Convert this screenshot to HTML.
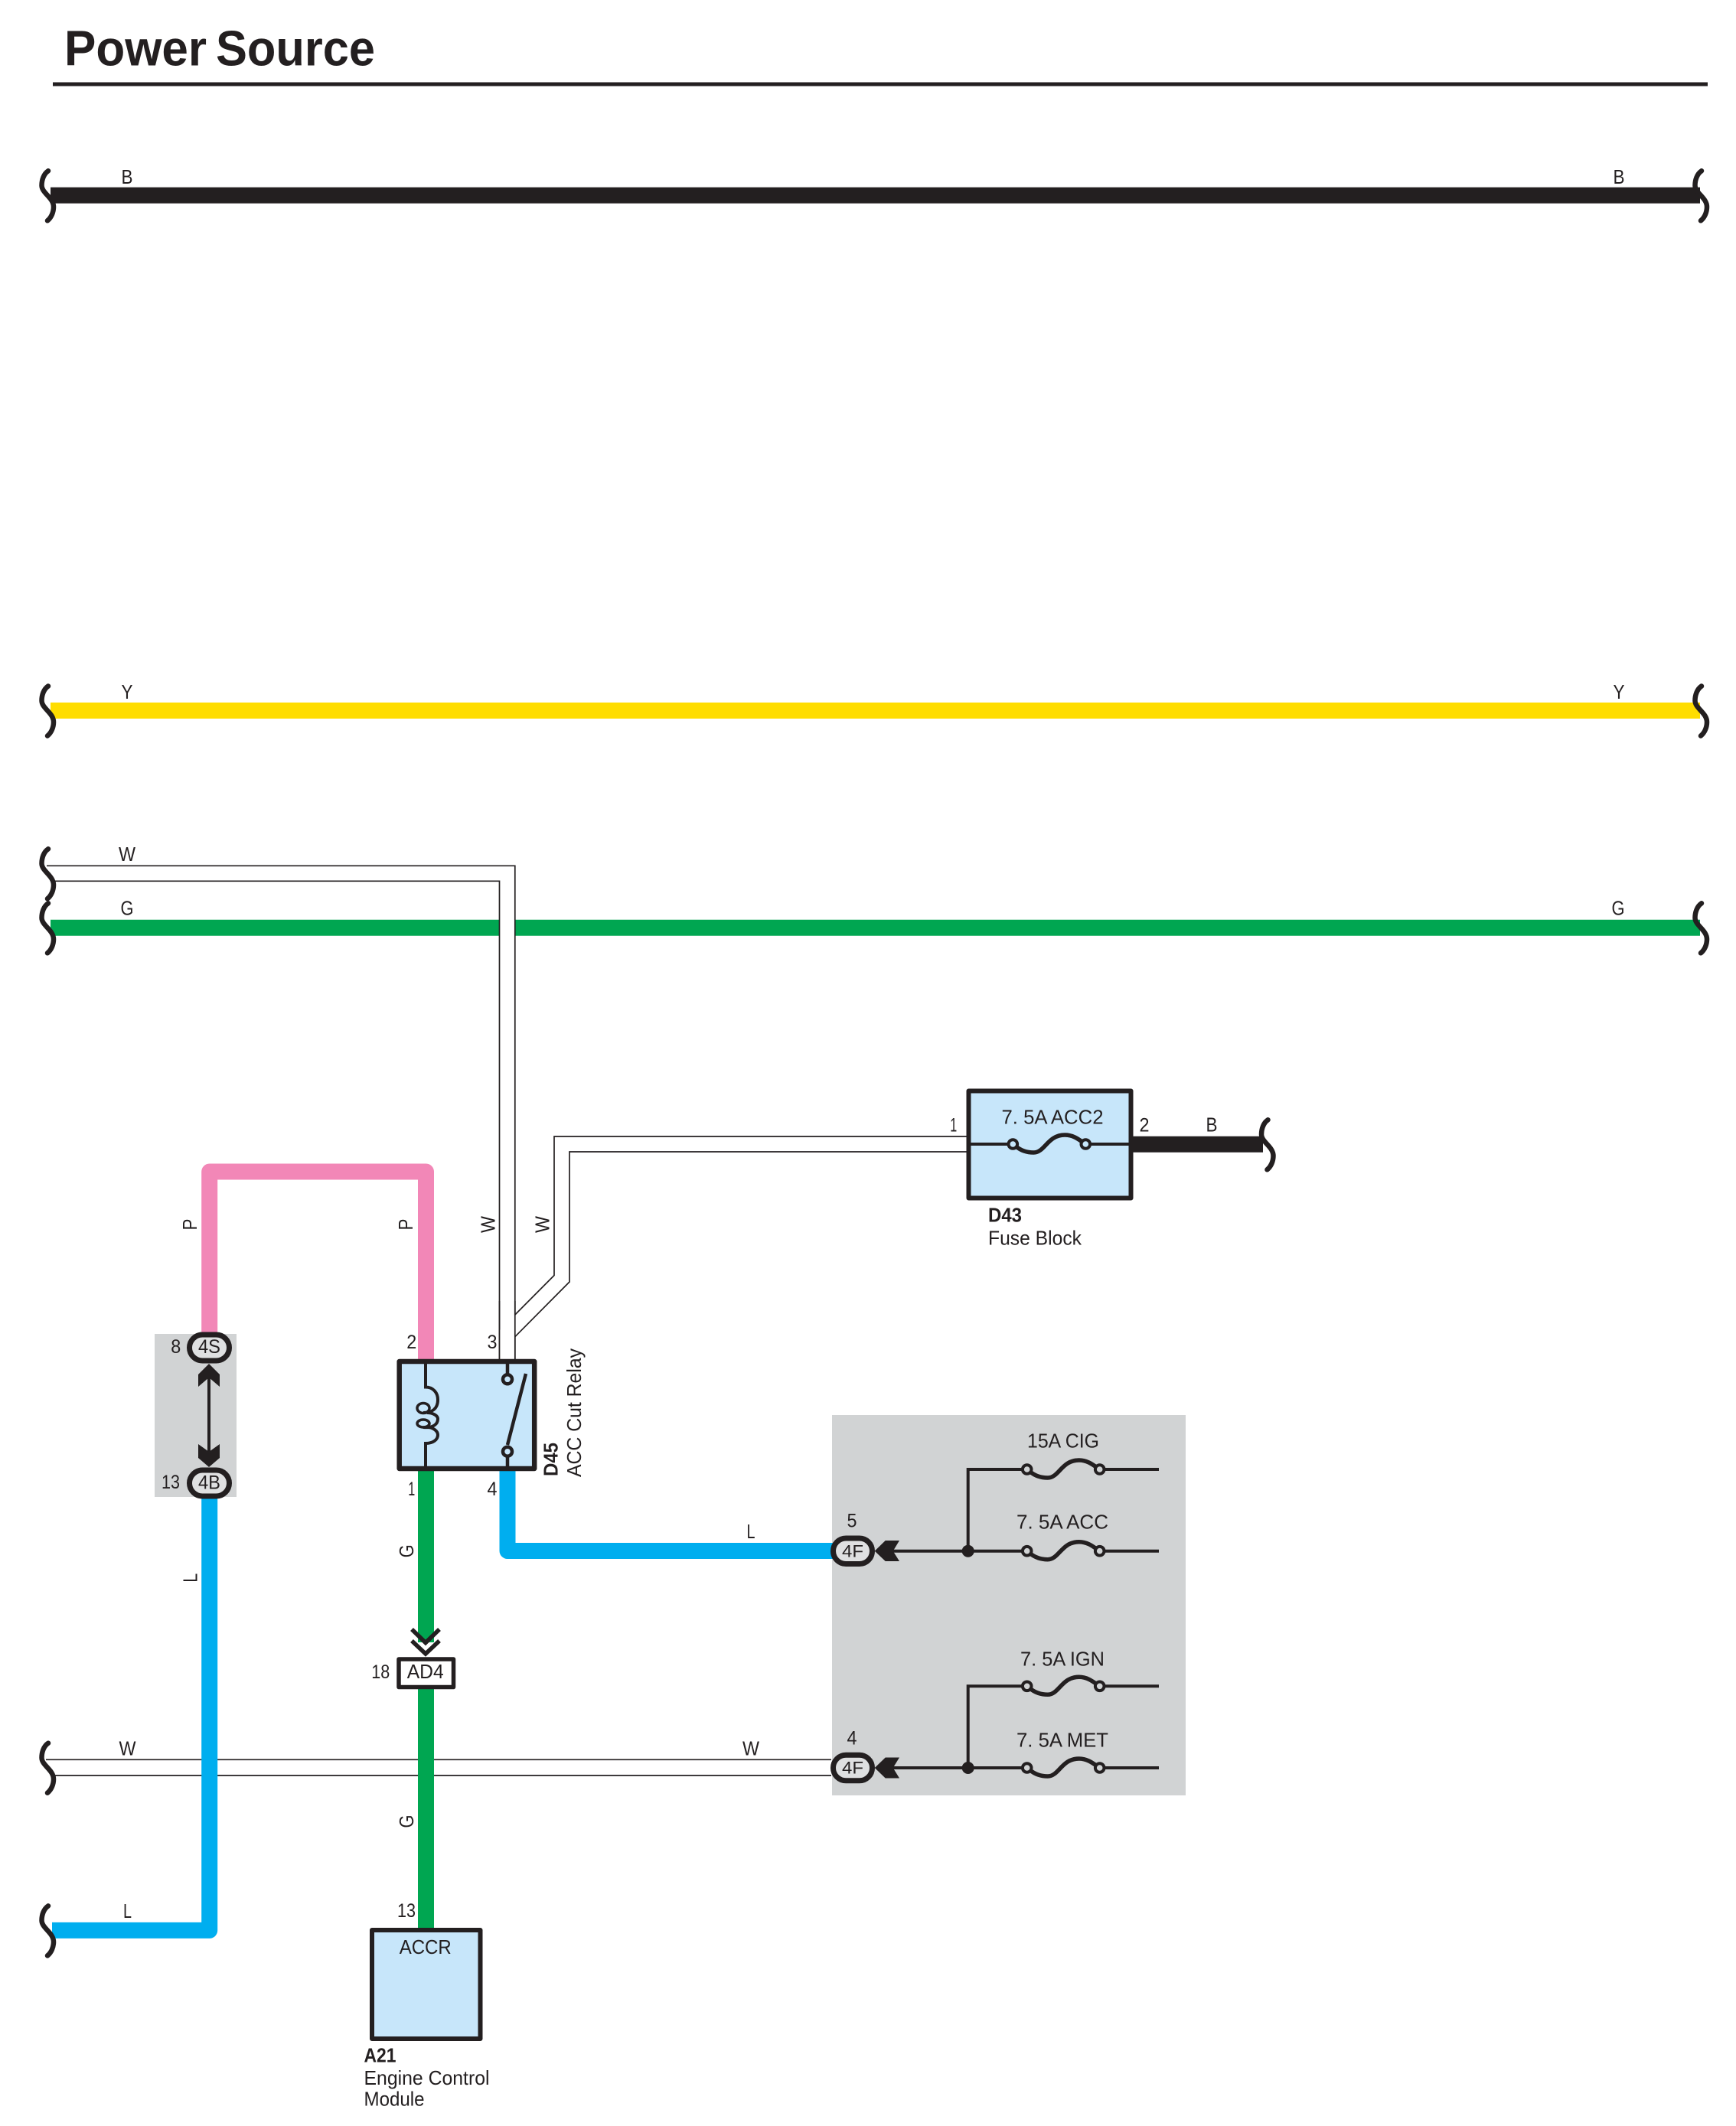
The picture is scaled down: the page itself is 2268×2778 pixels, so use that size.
<!DOCTYPE html>
<html lang="en">
<head>
<meta charset="utf-8">
<title>Power Source</title>
<style>
html,body{margin:0;padding:0;background:#fff}
svg{display:block}
text{font-family:"Liberation Sans",sans-serif;font-size:26px;fill:#231f20}
.m{text-anchor:middle}
.b{font-weight:bold}
.n{font-size:25px}
.c{font-size:22px}
.w{fill:none;stroke-linejoin:round;stroke-width:21}
.k{fill:none;stroke:#231f20;stroke-width:4}
.t{fill:none;stroke:#231f20;stroke-width:1.7}
.box{stroke:#231f20;stroke-linejoin:round}
</style>
</head>
<body>
<svg xmlns="http://www.w3.org/2000/svg" width="2268" height="2778" viewBox="0 0 2268 2778">
<defs>
<path id="br" d="M0,-32 C-6,-28 -8.5,-20 -8.5,-13 C-8.5,-3 7,3 7,15 C7,22 4,29 -1,33" fill="none" stroke="#231f20" stroke-width="6.5" stroke-linecap="round"/>
<g id="fuse">
<path d="M4,3 C10,8 17,11 27,11 C42,11 45,-12 68,-12 C78,-12 85,-7 92,-2" fill="none" stroke="#231f20" stroke-width="5.5"/>
<circle cx="0" cy="0" r="5.8" stroke="#231f20" stroke-width="4"/>
<circle cx="95" cy="0" r="5.8" stroke="#231f20" stroke-width="4"/>
</g>
</defs>
<rect width="2268" height="2778" fill="#fff"/>

<!-- title -->
<text x="84" y="85.5" class="b" style="font-size:65px" textLength="186" lengthAdjust="spacingAndGlyphs">Power</text>
<text x="282" y="85.5" class="b" style="font-size:65px" textLength="208" lengthAdjust="spacingAndGlyphs">Source</text>
<rect x="69" y="107.5" width="2162" height="5" fill="#231f20"/>

<!-- buses -->
<path d="M66,255.3H2221" class="w" stroke="#231f20"/>
<path d="M66,928.5H2221" class="w" stroke="#FFDD00"/>
<path d="M66,1212.3H2221" class="w" stroke="#00A651"/>

<!-- W upper wire -->
<path d="M59,1141.3H662.5V1776" fill="none" stroke="#fff" stroke-width="20"/>
<path d="M61,1131.3H672.8V1776" class="t"/>
<path d="M70,1151.3H652.5V1776" class="t"/>

<!-- W wire to fuse block -->
<path d="M1263,1495H734V1671L662.5,1742.5V1776" fill="none" stroke="#fff" stroke-width="20"/>
<path d="M1263,1485H724V1666.5L672.8,1718" class="t" stroke-width="1.4"/>
<path d="M1263,1505H744V1675L672.8,1746.7" class="t" stroke-width="1.4"/>
<path d="M652.5,1700V1776M672.8,1700V1776" class="t"/>

<!-- W lower wire -->
<path d="M60,2299.3H1086M70,2320H1086" class="t"/>

<!-- grey boxes -->
<rect x="202" y="1743" width="107" height="213" fill="#d1d3d4"/>
<rect x="1087" y="1849" width="462" height="497" fill="#d1d3d4"/>

<!-- pink -->
<path d="M273.7,1745V1531H556.5V1780" class="w" stroke="#F287B7"/>
<!-- blue L left -->
<path d="M273.7,1950V2522.4H68" class="w" stroke="#00AEEF"/>
<!-- blue L relay -->
<path d="M663,1922V2026.5H1090" class="w" stroke="#00AEEF"/>
<!-- green -->
<path d="M556.5,1920V2146" fill="none" stroke="#00A651" stroke-width="21"/>
<path d="M556.5,2205V2522" fill="none" stroke="#00A651" stroke-width="21"/>
<!-- black to fuse block -->
<path d="M1478,1495.3H1650" class="w" stroke="#231f20"/>

<!-- braces -->
<use href="#br" x="63" y="255.3"/>
<use href="#br" x="63" y="928.5"/>
<use href="#br" x="63" y="1141.3"/>
<use href="#br" x="63" y="1212.3"/>
<use href="#br" x="63" y="2309.7"/>
<use href="#br" x="63" y="2522.4"/>
<use href="#br" x="2223" y="255.3"/>
<use href="#br" x="2223" y="928.5"/>
<use href="#br" x="2223" y="1212.3"/>
<use href="#br" x="1656.5" y="1495.3"/>

<!-- wire labels -->
<text x="166" y="240" class="m" textLength="15" lengthAdjust="spacingAndGlyphs">B</text>
<text x="2115" y="240" class="m" textLength="15" lengthAdjust="spacingAndGlyphs">B</text>
<text x="166" y="913" class="m" textLength="15" lengthAdjust="spacingAndGlyphs">Y</text>
<text x="2115" y="913" class="m" textLength="15" lengthAdjust="spacingAndGlyphs">Y</text>
<text x="166" y="1125" class="m" textLength="22" lengthAdjust="spacingAndGlyphs">W</text>
<text x="166" y="1195.5" class="m" textLength="17" lengthAdjust="spacingAndGlyphs">G</text>
<text x="2114" y="1195.5" class="m" textLength="17" lengthAdjust="spacingAndGlyphs">G</text>
<text x="166.5" y="2293.5" class="m" textLength="22" lengthAdjust="spacingAndGlyphs">W</text>
<text x="981" y="2293.5" class="m" textLength="22" lengthAdjust="spacingAndGlyphs">W</text>
<text x="166.5" y="2506" class="m" textLength="11" lengthAdjust="spacingAndGlyphs">L</text>
<text x="981" y="2010" class="m" textLength="11" lengthAdjust="spacingAndGlyphs">L</text>
<text x="1583" y="1478.5" class="m" textLength="15" lengthAdjust="spacingAndGlyphs">B</text>
<text class="m" transform="translate(257,1600) rotate(-90)" textLength="15" lengthAdjust="spacingAndGlyphs">P</text>
<text class="m" transform="translate(539,1600) rotate(-90)" textLength="15" lengthAdjust="spacingAndGlyphs">P</text>
<text class="m" transform="translate(646.5,1600) rotate(-90)" textLength="22" lengthAdjust="spacingAndGlyphs">W</text>
<text class="m" transform="translate(717.5,1600) rotate(-90)" textLength="22" lengthAdjust="spacingAndGlyphs">W</text>
<text class="m" transform="translate(257.5,2061.7) rotate(-90)" textLength="12" lengthAdjust="spacingAndGlyphs">L</text>
<text class="m" transform="translate(540,2026.7) rotate(-90)" textLength="17" lengthAdjust="spacingAndGlyphs">G</text>
<text class="m" transform="translate(540,2380) rotate(-90)" textLength="17" lengthAdjust="spacingAndGlyphs">G</text>

<!-- 4S / 4B connector -->
<rect x="247.5" y="1744" width="52" height="34" rx="17" fill="#dfe0e1" stroke="#231f20" stroke-width="7"/>
<rect x="247.5" y="1921" width="52" height="34" rx="17" fill="#dfe0e1" stroke="#231f20" stroke-width="7"/>
<text x="273.5" y="1768" class="m n" textLength="29" lengthAdjust="spacingAndGlyphs">4S</text>
<text x="273.5" y="1945.5" class="m n" textLength="29" lengthAdjust="spacingAndGlyphs">4B</text>
<text x="229.7" y="1768" class="m n" textLength="13" lengthAdjust="spacingAndGlyphs">8</text>
<text x="223" y="1945" class="m n" textLength="24" lengthAdjust="spacingAndGlyphs">13</text>
<path d="M273,1800V1900" class="k"/>
<polygon points="273,1782 287,1796 287,1812 273,1800 259,1812 259,1796" fill="#231f20"/>
<polygon points="273,1917 287,1905 287,1887 273,1897 259,1887 259,1905" fill="#231f20"/>

<!-- relay D45 -->
<rect x="521.7" y="1779" width="176.5" height="140" fill="#C7E6FA" class="box" stroke-width="6.5"/>
<path d="M556,1778V1812.5C566,1812.5 572,1820 572,1829C572,1841 564,1846 553,1846M558,1846C566,1846 572,1850 572,1854C572,1861 566,1866 553,1865M558,1865C566,1865 572,1870 572,1875C572,1881 566,1886 556,1886V1920" class="k"/>
<ellipse cx="553" cy="1840" rx="8" ry="6.5" class="k" style="stroke-width:3.5"/>
<ellipse cx="553" cy="1860" rx="8" ry="5" class="k" style="stroke-width:3.5"/>
<path d="M663,1778V1796M663,1903V1920M687,1795L663,1888" class="k" style="stroke-width:4.5"/>
<circle cx="663" cy="1802.3" r="6" fill="#C7E6FA" stroke="#231f20" stroke-width="4.5"/>
<circle cx="663" cy="1896.7" r="6" fill="#C7E6FA" stroke="#231f20" stroke-width="4.5"/>
<text x="537.8" y="1762" class="m n" textLength="13" lengthAdjust="spacingAndGlyphs">2</text>
<text x="643" y="1762" class="m n" textLength="13" lengthAdjust="spacingAndGlyphs">3</text>
<text x="537.8" y="1954" class="m n" textLength="9" lengthAdjust="spacingAndGlyphs">1</text>
<text x="643" y="1954" class="m n" textLength="13" lengthAdjust="spacingAndGlyphs">4</text>
<text class="b" transform="translate(728.5,1929) rotate(-90)" textLength="44" lengthAdjust="spacingAndGlyphs">D45</text>
<text transform="translate(759,1930) rotate(-90)" textLength="168" lengthAdjust="spacingAndGlyphs">ACC Cut Relay</text>

<!-- fuse block D43 -->
<rect x="1265.5" y="1425.5" width="212" height="140" fill="#C7E6FA" class="box" stroke-width="6"/>
<path d="M1265,1495H1318M1424,1495H1478" class="k"/>
<use href="#fuse" x="1323.3" y="1495" fill="#C7E6FA"/>
<text x="1375" y="1468.5" class="m" textLength="133" lengthAdjust="spacingAndGlyphs">7. 5A ACC2</text>
<text x="1245.7" y="1478.5" class="m n" textLength="9" lengthAdjust="spacingAndGlyphs">1</text>
<text x="1495" y="1478.5" class="m n" textLength="13" lengthAdjust="spacingAndGlyphs">2</text>
<text x="1291" y="1596.5" class="b" textLength="44" lengthAdjust="spacingAndGlyphs">D43</text>
<text x="1291" y="1626.5" textLength="122" lengthAdjust="spacingAndGlyphs">Fuse Block</text>

<!-- 4F connectors and fuses -->
<g fill="#d1d3d4">
<rect x="1088.5" y="2010" width="51" height="33.5" rx="16.7" fill="#dfe0e1" stroke="#231f20" stroke-width="7"/>
<rect x="1088.5" y="2293.3" width="51" height="33.5" rx="16.7" fill="#dfe0e1" stroke="#231f20" stroke-width="7"/>
<polygon points="1142.7,2026.7 1156.7,2013 1175,2013 1166.7,2026.7 1175,2040 1156.7,2040" fill="#231f20"/>
<polygon points="1142.7,2310 1156.7,2296.5 1175,2296.5 1166.7,2310 1175,2323.5 1156.7,2323.5" fill="#231f20"/>
<path d="M1166,2026.7H1336M1264.7,2026.7V1920H1336M1442,1920H1514M1442,2026.7H1514" class="k"/>
<path d="M1166,2310H1336M1264.7,2310V2203.3H1336M1442,2203.3H1514M1442,2310H1514" class="k"/>
<circle cx="1264.7" cy="2026.7" r="8"  fill="#231f20"/>
<circle cx="1264.7" cy="2310" r="8" fill="#231f20"/>
<use href="#fuse" x="1341.7" y="1920"/>
<use href="#fuse" x="1341.7" y="2026.7"/>
<use href="#fuse" x="1341.7" y="2203.3"/>
<use href="#fuse" x="1341.7" y="2310"/>
</g>
<text x="1114" y="2034.5" class="m c" textLength="28" lengthAdjust="spacingAndGlyphs">4F</text>
<text x="1114" y="2317.5" class="m c" textLength="28" lengthAdjust="spacingAndGlyphs">4F</text>
<text x="1113" y="1995.5" class="m n" textLength="13" lengthAdjust="spacingAndGlyphs">5</text>
<text x="1113" y="2279.5" class="m n" textLength="13" lengthAdjust="spacingAndGlyphs">4</text>
<text x="1389" y="1891.5" class="m" textLength="94" lengthAdjust="spacingAndGlyphs">15A CIG</text>
<text x="1388" y="1997.5" class="m" textLength="120" lengthAdjust="spacingAndGlyphs">7. 5A ACC</text>
<text x="1388" y="2176.5" class="m" textLength="110" lengthAdjust="spacingAndGlyphs">7. 5A IGN</text>
<text x="1388" y="2282.5" class="m" textLength="120" lengthAdjust="spacingAndGlyphs">7. 5A MET</text>

<!-- AD4 connector -->
<path d="M538,2129L556,2146.5L574,2129M538,2144L556,2161L574,2144" fill="none" stroke="#231f20" stroke-width="5.5"/>
<rect x="521" y="2168" width="71.5" height="36.5" fill="#fff" class="box" stroke-width="5.5"/>
<text x="555.7" y="2193" class="m" textLength="48" lengthAdjust="spacingAndGlyphs">AD4</text>
<text x="497.3" y="2193" class="m n" textLength="24" lengthAdjust="spacingAndGlyphs">18</text>

<!-- ECM A21 -->
<rect x="486" y="2522" width="141.5" height="142" fill="#C7E6FA" class="box" stroke-width="6"/>
<text x="531" y="2505" class="m n" textLength="24" lengthAdjust="spacingAndGlyphs">13</text>
<text x="555.7" y="2553" class="m" textLength="68" lengthAdjust="spacingAndGlyphs">ACCR</text>
<text x="475.5" y="2694.5" class="b" textLength="42" lengthAdjust="spacingAndGlyphs">A21</text>
<text x="475.5" y="2724" textLength="164" lengthAdjust="spacingAndGlyphs">Engine Control</text>
<text x="475.5" y="2751.5" textLength="79" lengthAdjust="spacingAndGlyphs">Module</text>
</svg>
</body>
</html>
